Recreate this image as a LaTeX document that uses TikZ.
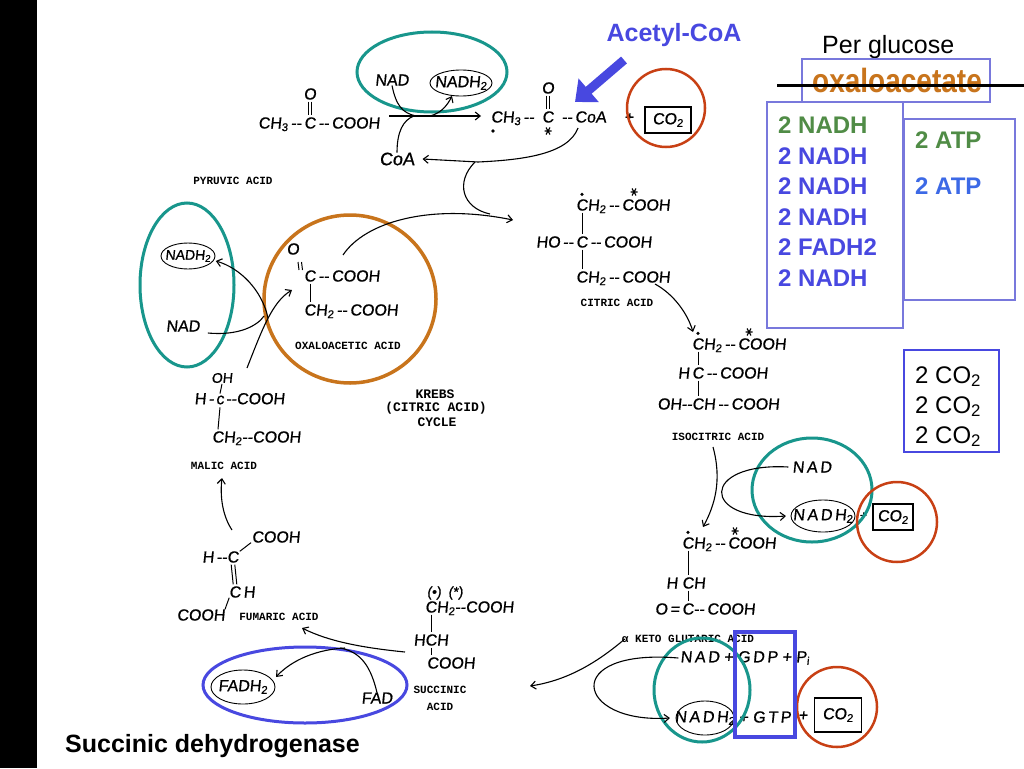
\documentclass[tikz,border=0pt]{standalone}
\usepackage{fontspec}
\setmainfont{Liberation Sans}
\newfontfamily\handfont[FakeSlant=0.1,FakeBold=0.8]{Liberation Sans}
\newfontfamily\labfont{Liberation Mono}
\usetikzlibrary{arrows.meta,shapes.geometric}
\definecolor{tealc}{RGB}{24,150,140}
\definecolor{redc}{RGB}{200,64,20}
\definecolor{orangec}{RGB}{200,116,28}
\definecolor{bluec}{RGB}{72,72,224}
\definecolor{greenc}{RGB}{80,140,70}
\definecolor{atpblue}{RGB}{60,105,230}
\definecolor{boxc}{RGB}{120,120,220}
\begin{document}
\begin{tikzpicture}[x=1pt,y=-1pt,
 hand/.style={font=\handfont\fontsize{16}{16}\selectfont, inner sep=0pt, outer sep=0pt},
 shand/.style={font=\handfont\fontsize{14}{14}\selectfont, inner sep=0pt, outer sep=0pt},
 lab/.style={font=\labfont\bfseries\fontsize{11}{11}\selectfont, inner sep=0pt},
 klab/.style={font=\labfont\bfseries\fontsize{13}{13}\selectfont, inner sep=0pt},
 bond/.style={line width=1pt},
 harrow/.style={line width=1.1pt, -{Straight Barb[length=5pt,width=8pt]}},
 hline/.style={line width=1.1pt},
 molring/.style={line width=0.9pt},
 tealring/.style={draw=tealc, line width=3pt},
 redring/.style={draw=redc, line width=2.5pt},
 big/.style={font=\fontsize{24}{24}\selectfont\bfseries, inner sep=0pt, anchor=base west},
 hbox/.style={draw, line width=1.1pt, inner sep=2pt, rectangle},
 astr/.pic={\draw[line width=1.1pt] (-3.5,0) -- (3.5,0) (-2,-3.5) -- (2,3.5) (2,-3.5) -- (-2,3.5);}
]
\useasboundingbox (0,0) rectangle (1024,768);
\fill[white] (0,0) rectangle (1024,768);
\fill[black] (0,0) rectangle (37,768);

% ---------- right panel ----------
\node[font=\fontsize{25}{25}\selectfont, anchor=base west, inner sep=0pt] (perg) at (822,53) {Per glucose};
\draw[boxc, line width=1.2pt] (802,59) rectangle (990,102);
\node[font=\fontsize{28}{28}\selectfont\bfseries, text=orangec, anchor=base west, inner sep=0pt] (oxa) at (812,92) {\scalebox{1}[1.2]{oxaloacetate}};
\draw[line width=3pt] (777,85) -- (1024,85);
\draw[boxc, line width=1.2pt] (767,102) rectangle (903,328);
\draw[boxc, line width=1.2pt] (904,119) rectangle (1015,300);
\draw[bluec, line width=2pt] (904,350) rectangle (999,452);
\node[big, text=greenc] (n1) at (778,133.5) {2 NADH};
\node[big, text=bluec] (n2) at (778,164) {2 NADH};
\node[big, text=bluec] (n3) at (778,194.5) {2 NADH};
\node[big, text=bluec] (n4) at (778,225) {2 NADH};
\node[big, text=bluec] (n5) at (778,255.5) {2 FADH2};
\node[big, text=bluec] (n6) at (778,286) {2 NADH};
\node[big, text=greenc] (t1) at (915,148.5) {2 ATP};
\node[big, text=atpblue] (t2) at (915,194.5) {2 ATP};
\node[big, font=\fontsize{24}{24}\selectfont] (c1) at (915,383) {2 CO\textsubscript{2}};
\node[big, font=\fontsize{24}{24}\selectfont] (c2) at (915,413) {2 CO\textsubscript{2}};
\node[big, font=\fontsize{24}{24}\selectfont] (c3) at (915,443) {2 CO\textsubscript{2}};

% ---------- acetyl-CoA label + arrow ----------
\node[font=\fontsize{25}{25}\selectfont\bfseries, text=bluec, inner sep=0pt] (acl) at (674,35) {Acetyl-CoA};
\coordinate (bs) at (624,60);
\coordinate (be) at (575,102);
\draw[bluec, line width=9pt, -{Triangle[length=18pt,width=30pt]}] (bs) -- (be);

% ---------- pyruvic acid ----------
\node[hand] (pyC) at (310,123) {C};
\node[hand,anchor=base east] (pyL) at (pyC.base west) {CH\textsubscript{3}\,--\,};
\node[hand,anchor=base west] (pyR) at (pyC.base east) {\,--\,COOH};
\node[hand] (pyO) at (310,94) {O};
\draw[bond] ([xshift=-1.8pt,yshift=-2pt]pyO.south) -- ([xshift=-1.8pt,yshift=2pt]pyC.north);
\draw[bond] ([xshift=1.8pt,yshift=-2pt]pyO.south) -- ([xshift=1.8pt,yshift=2pt]pyC.north);
\node[lab] (pyl) at (233,181) {PYRUVIC ACID};

% ---------- acetyl-CoA ----------
\node[hand] (acC) at (548,117) {C};
\node[hand,anchor=base east] (acL) at (acC.base west) {CH\textsubscript{3}\,--\enspace};
\node[hand,anchor=base west] (acR) at (acC.base east) {\enspace--\,CoA};
\node[hand] (acO) at (548,88) {O};
\draw[bond] ([xshift=-1.8pt,yshift=-2pt]acO.south) -- ([xshift=-1.8pt,yshift=2pt]acC.north);
\draw[bond] ([xshift=1.8pt,yshift=-2pt]acO.south) -- ([xshift=1.8pt,yshift=2pt]acC.north);
\pic at (548,131) {astr};
\fill (493,131) circle (1.8pt);
\node[hand] (plus1) at (629,118) {+};
\node[hand, hbox, minimum width=46pt, minimum height=26pt] (co2a) at (668,120) {CO\textsubscript{2}};
\draw[redring] (666,108) circle [radius=39pt];

% ---------- top NAD / NADH2 ----------
\node[hand] (nad1) at (392,80) {NAD};
\node[hand] (nadh1) at (461,83) {NADH\textsubscript{2}};
\draw[molring] (nadh1) ellipse [x radius=31pt, y radius=13pt];
\draw[tealring] (432,72) ellipse [x radius=75pt, y radius=40pt];
\node[hand, font=\handfont\fontsize{18}{18}\selectfont] (coa) at (397,159) {CoA};
\coordinate (m1) at (389,116);
\coordinate (m2) at (481,116);
\draw[harrow] (m1) -- (m2);
\draw[hline] (nad1.south) .. controls (396,105) and (402,113) .. (416,116);
\draw[harrow] (430,116) .. controls (442,113) and (448,104) .. (452,96);
\draw[hline] (coa.north) .. controls (397,132) and (403,120) .. (414,116);
\draw[harrow] (578,128) .. controls (568,155) and (520,160) .. (478,162) -- ([xshift=8pt]coa.east);
\draw[hline] (475,162) .. controls (455,182) and (462,208) .. (490,214);

% ---------- oxaloacetic acid ----------
\node[hand] (oxO) at (293,249) {O};
\draw[bond] (298,262) -- (299,270);
\draw[bond] (301.5,262) -- (302.5,270);
\node[hand] (oxC) at (310,276) {C};
\node[hand,anchor=base west] (oxR) at (oxC.base east) {\,--\,COOH};
\node[hand] (oxC2) at (310,310) {C};
\node[hand,anchor=base west] (oxR2) at (oxC2.base east) {H\textsubscript{2}\,--\,COOH};
\draw[bond] ([yshift=-2pt]oxC.south) -- ([yshift=2pt]oxC2.north);
\node[lab] (oxl) at (348,346) {OXALOACETIC ACID};
\draw[draw=orangec, line width=3.5pt] (350,299) ellipse [x radius=86pt, y radius=84pt];
\draw[harrow] (343,255) .. controls (365,222) and (430,203) .. (513,220);

% ---------- citric acid ----------
\node[hand] (ci1) at (582,205) {C};
\node[hand,anchor=base west] (ci1r) at (ci1.base east) {H\textsubscript{2}\,--\,COOH};
\fill ([yshift=5pt]ci1.north) circle (1.8pt);
\pic at (634,192) {astr};
\node[hand] (ci2) at (582,242) {C};
\node[hand,anchor=base east] (ci2l) at (ci2.base west) {HO\,--\,};
\node[hand,anchor=base west] (ci2r) at (ci2.base east) {\,--\,COOH};
\node[hand] (ci3) at (582,277) {C};
\node[hand,anchor=base west] (ci3r) at (ci3.base east) {H\textsubscript{2}\,--\,COOH};
\draw[bond] ([yshift=-2pt]ci1.south) -- ([yshift=2pt]ci2.north);
\draw[bond] ([yshift=-2pt]ci2.south) -- ([yshift=2pt]ci3.north);
\node[lab] (cil) at (617,303) {CITRIC ACID};
\draw[harrow] (655,284) .. controls (675,295) and (688,315) .. (693,332);

% ---------- isocitric acid ----------
\node[hand] (is1) at (698,344) {C};
\node[hand,anchor=base west] (is1r) at (is1.base east) {H\textsubscript{2}\,--\,COOH};
\fill ([yshift=5pt]is1.north) circle (1.8pt);
\pic at (749,332) {astr};
\node[hand] (is2) at (698,373) {C};
\node[hand,anchor=base east] (is2l) at (is2.base west) {H\,};
\node[hand,anchor=base west] (is2r) at (is2.base east) {\,--\,COOH};
\node[hand] (is3) at (698,404) {C};
\node[hand,anchor=base east] (is3l) at (is3.base west) {OH--};
\node[hand,anchor=base west] (is3r) at (is3.base east) {H\,--\,COOH};
\draw[bond] ([yshift=-2pt]is1.south) -- ([yshift=2pt]is2.north);
\draw[bond] ([yshift=-2pt]is2.south) -- ([yshift=2pt]is3.north);
\node[lab] (isl) at (718,437) {ISOCITRIC ACID};
\draw[harrow] (713,447) .. controls (722,480) and (715,505) .. (703,527);

% ---------- isocitric -> aKG cofactors ----------
\node[hand] (nad2) at (812,467) {N\,A\,D};
\node[hand] (nadh2) at (823,516) {N\,A\,D\,H\textsubscript{2}};
\draw[molring] (nadh2) ellipse [x radius=32pt, y radius=16pt];
\node[hand, font=\handfont\fontsize{12}{12}\selectfont] (plus2) at (863,516) {+};
\node[hand, hbox, minimum width=40pt, minimum height=26pt] (co2b) at (893,517) {CO\textsubscript{2}};
\draw[tealring] (812,490) ellipse [x radius=60pt, y radius=52pt];
\draw[redring] (897,522) circle [radius=40pt];
\draw[harrow] ([xshift=-4pt]nad2.west) .. controls (700,462) and (700,522) .. ([xshift=-7pt]nadh2.west);

% ---------- alpha-ketoglutaric acid ----------
\node[hand] (kg1) at (688,543) {C};
\node[hand,anchor=base west] (kg1r) at (kg1.base east) {H\textsubscript{2}\,--\,COOH};
\fill ([yshift=5pt]kg1.north) circle (1.8pt);
\pic at (735,531) {astr};
\node[hand] (kg2) at (688,583) {C};
\node[hand,anchor=base east] (kg2l) at (kg2.base west) {H\;};
\node[hand,anchor=base west] (kg2r) at (kg2.base east) {H};
\node[hand] (kg3) at (688,609) {C};
\node[hand,anchor=base east] (kg3l) at (kg3.base west) {O\,=\,};
\node[hand,anchor=base west] (kg3r) at (kg3.base east) {--\,COOH};
\draw[bond] ([yshift=-2pt]kg1.south) -- ([yshift=2pt]kg2.north);
\draw[bond] ([yshift=-2pt]kg2.south) -- ([yshift=2pt]kg3.north);
\node[lab] (kgl) at (688,639) {α KETO GLUTARIC ACID};

% ---------- aKG -> succinyl cofactors ----------
\node[hand] (nad3) at (745,658) {N\,A\,D + G\,D\,P + P\textsubscript{i}};
\node[hand] (nadh3) at (705,718) {N\,A\,D\,H\textsubscript{2}};
\draw[molring] (nadh3) ellipse [x radius=29pt, y radius=17pt];
\node[hand] (gtp) at (765,717) {+ G\,T\,P};
\node[hand] (plus3) at (803,716) {+};
\node[hand, hbox, minimum width=47pt, minimum height=34pt] (co2c) at (838,715) {CO\textsubscript{2}};
\draw[tealring] (702,690) ellipse [x radius=48pt, y radius=52pt];
\draw[redring] (837,707) circle [radius=40pt];
\draw[bluec, line width=4pt] (735,632) rectangle (795,737);
\draw[harrow] ([xshift=-2pt]nad3.west) .. controls (560,648) and (575,724) .. ([xshift=-5pt]nadh3.west);
\draw[harrow] ([xshift=3pt]kgl.west) .. controls (600,660) and (570,680) .. (530,686);

% ---------- succinic acid ----------
\node[shand] (sumk) at (445,593) {(\textbullet)\enspace(*)};
\node[hand] (su1) at (431,607) {C};
\node[hand,anchor=base west] (su1r) at (su1.base east) {H\textsubscript{2}--COOH};
\node[hand] (su2) at (431,640) {C};
\node[hand,anchor=base east] (su2l) at (su2.base west) {H};
\node[hand,anchor=base west] (su2r) at (su2.base east) {H};
\node[hand,anchor=west] (su3) at (427,663) {COOH};
\draw[bond] ([yshift=-2pt]su1.south) -- ([yshift=2pt]su2.north);
\draw[bond] ([yshift=-2pt]su2.south) -- (431,655);
\node[lab] (sul1) at (440,690) {SUCCINIC};
\node[lab] (sul2) at (440,707) {ACID};
\draw[harrow] (405,652) .. controls (365,648) and (330,642) .. (302,628);

% ---------- FAD / FADH2 ----------
\node[hand] (fad) at (377,698) {FAD};
\node[hand] (fadh) at (243,687) {FADH\textsubscript{2}};
\draw[molring] (fadh) ellipse [x radius=32pt, y radius=17pt];
\draw[draw=bluec, line width=3pt] (305,685) ellipse [x radius=102pt, y radius=38pt];
\draw[hline] (fad.north) .. controls (371,668) and (362,652) .. (340,648);
\draw[harrow] (345,648) .. controls (310,650) and (288,664) .. (276,677);

% ---------- fumaric acid ----------
\node[hand] (fu1) at (276,537) {COOH};
\node[hand] (fuC1) at (233,557) {C};
\node[hand,anchor=base east] (fuC1l) at (fuC1.base west) {H\,--};
\draw[bond] ([xshift=1pt]fuC1.north east) -- ([xshift=-1pt]fu1.south west);
\node[hand] (fuC2) at (235,592) {C};
\node[hand,anchor=base west] (fuC2r) at (fuC2.base east) {\,H};
\draw[bond] ([xshift=-1.8pt,yshift=-2pt]fuC1.south) -- ([xshift=-1.8pt,yshift=2pt]fuC2.north);
\draw[bond] ([xshift=1.8pt,yshift=-2pt]fuC1.south) -- ([xshift=1.8pt,yshift=2pt]fuC2.north);
\node[hand] (fu3) at (201,615) {COOH};
\draw[bond] (fuC2.south west) -- (fu3.north east);
\node[lab] (ful) at (279,617) {FUMARIC ACID};
\draw[harrow] (232,530) .. controls (222,515) and (220,495) .. (222,478);

% ---------- malic acid ----------
\node[shand] (maO) at (222,378) {OH};
\node[hand] (maC) at (220,400) {c};
\node[hand,anchor=base east] (maCl) at ([xshift=-2pt]maC.base west) {H\,-};
\node[hand,anchor=base west] (maCr) at ([xshift=2pt]maC.base east) {--COOH};
\node[hand] (maC2) at (218,437) {C};
\node[hand,anchor=base west] (maC2r) at (maC2.base east) {H\textsubscript{2}--COOH};
\draw[bond] ([yshift=-1pt]maO.south) -- ([yshift=2pt]maC.north);
\draw[bond] ([yshift=-3pt]maC.south) -- ([yshift=2pt]maC2.north);
\node[lab] (mal) at (224,466) {MALIC ACID};

% ---------- left NAD / NADH2 ----------
\node[shand] (nadh4) at (188,256) {NADH\textsubscript{2}};
\draw[molring] (nadh4) ellipse [x radius=27pt, y radius=13pt];
\node[hand] (nad4) at (183,326) {NAD};
\draw[tealring] (187,285) ellipse [x radius=47pt, y radius=82pt];
\draw[harrow] (247,368) .. controls (262,330) and (272,302) .. (292,290);
\draw[hline] ([xshift=8pt,yshift=-7pt]nad4.east) .. controls (240,336) and (258,325) .. (264,316);
\draw[harrow] (268,318) .. controls (262,290) and (240,268) .. ([xshift=5pt,yshift=-5pt]nadh4.east);

% ---------- Krebs label ----------
\node[klab] (kr1) at (435,394) {KREBS};
\node[klab] (kr2) at (436,408) {(CITRIC ACID)};
\node[klab] (kr3) at (437,422) {CYCLE};

% ---------- bottom caption ----------
\node[font=\fontsize{25}{25}\selectfont\bfseries, anchor=base west, inner sep=0pt] (sdh) at (65,752) {Succinic dehydrogenase};
\end{tikzpicture}
\end{document}
